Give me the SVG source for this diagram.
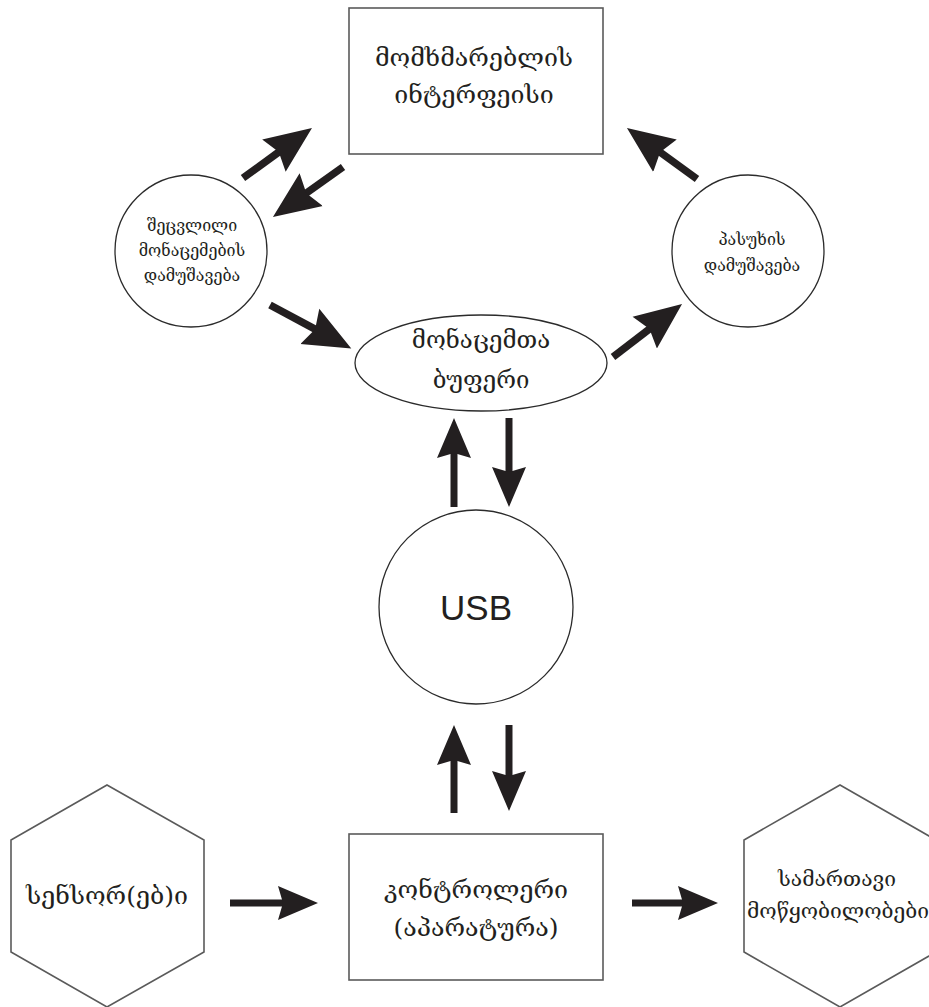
<svg xmlns="http://www.w3.org/2000/svg" width="929" height="1007" viewBox="0 0 929 1007">
  <style>
    .box { fill: #ffffff; stroke: #5a5a5a; stroke-width: 1.6; }
    .shape { fill: #ffffff; stroke: #2b2b2b; stroke-width: 1.3; }
    .geo { font-family: "DejaVu Serif", "DejaVu Sans", serif; fill: #231f20; text-anchor: middle; }
    .big { font-size: 25px; }
    .mid { font-size: 24px; }
    .small { font-size: 16px; }
    .dev { font-size: 21px; }
    .usb { font-family: "Liberation Sans", Arial, sans-serif; font-size: 35px; fill: #231f20; text-anchor: middle; }
    .arrow { stroke: #231f20; stroke-width: 7; fill: none; marker-end: url(#head); }
    .arrow.diag { stroke-width: 7.5; marker-end: url(#headL); }
  </style>
  <defs>
    <marker id="head" markerUnits="userSpaceOnUse" viewBox="0 -18 41 36" markerWidth="41" markerHeight="36" refX="7" refY="0" orient="auto">
      <path d="M0,-17 L40,0 L0,17 L5,0 Z" fill="#231f20"/>
    </marker>
    <marker id="headL" markerUnits="userSpaceOnUse" viewBox="0 -21 48 42" markerWidth="48" markerHeight="42" refX="8" refY="0" orient="auto">
      <path d="M0,-20 L47,0 L0,20 L6,0 Z" fill="#231f20"/>
    </marker>
  </defs>
  <rect width="929" height="1007" fill="#ffffff"/>

  <g id="user-interface">
    <rect class="box" x="349" y="8" width="254" height="146"/>
    <text class="geo big" x="474" y="66">მომხმარებლის</text>
    <text class="geo big" x="474" y="103">ინტერფეისი</text>
  </g>

  <g id="changed-data-processing">
    <circle class="shape" cx="191" cy="251" r="76"/>
    <text class="geo small" x="192" y="231">შეცვლილი</text>
    <text class="geo small" x="192" y="256">მონაცემების</text>
    <text class="geo small" x="192" y="281">დამუშავება</text>
  </g>

  <g id="response-processing">
    <circle class="shape" cx="748" cy="251" r="76"/>
    <text class="geo small" x="752" y="245">პასუხის</text>
    <text class="geo small" x="752" y="271">დამუშავება</text>
  </g>

  <g id="data-buffer">
    <ellipse class="shape" cx="481" cy="363" rx="126" ry="48"/>
    <text class="geo mid" x="481" y="348">მონაცემთა</text>
    <text class="geo mid" x="481" y="388">ბუფერი</text>
  </g>

  <g id="usb">
    <circle class="shape" cx="476" cy="607" r="97"/>
    <text class="usb" x="476" y="620">USB</text>
  </g>

  <g id="sensors">
    <polygon class="box" points="107,785 204,840 204,952 107,1007 11,952 11,840"/>
    <text class="geo big" x="107" y="904">სენსორ(ებ)ი</text>
  </g>

  <g id="controller">
    <rect class="box" x="349" y="834" width="254" height="146"/>
    <text class="geo big" x="476" y="898">კონტროლერი</text>
    <text class="geo big" x="476" y="936">(აპარატურა)</text>
  </g>

  <g id="controlled-devices">
    <polygon class="box" points="840,785 936,840 936,952 840,1007 744,952 744,840"/>
    <text class="geo dev" x="837" y="886">სამართავი</text>
    <text class="geo dev" x="747" y="918" style="text-anchor:start">მოწყობილობები</text>
  </g>

  <g id="connectors">
    <line class="arrow diag" x1="243" y1="178" x2="280.4" y2="150.9"/>
    <line class="arrow diag" x1="343" y1="167" x2="304.7" y2="194.3"/>
    <line class="arrow diag" x1="697" y1="179" x2="658.5" y2="151"/>
    <line class="arrow diag" x1="270" y1="305" x2="316.9" y2="330.1"/>
    <line class="arrow diag" x1="613" y1="357" x2="651.1" y2="327.8"/>
    <line class="arrow" x1="454" y1="507" x2="454" y2="451"/>
    <line class="arrow" x1="509" y1="418" x2="509" y2="474"/>
    <line class="arrow" x1="454" y1="813" x2="454" y2="758"/>
    <line class="arrow" x1="509" y1="725" x2="509" y2="778"/>
    <line class="arrow" x1="230" y1="903" x2="285" y2="903"/>
    <line class="arrow" x1="632" y1="903" x2="685" y2="903"/>
  </g>
</svg>
